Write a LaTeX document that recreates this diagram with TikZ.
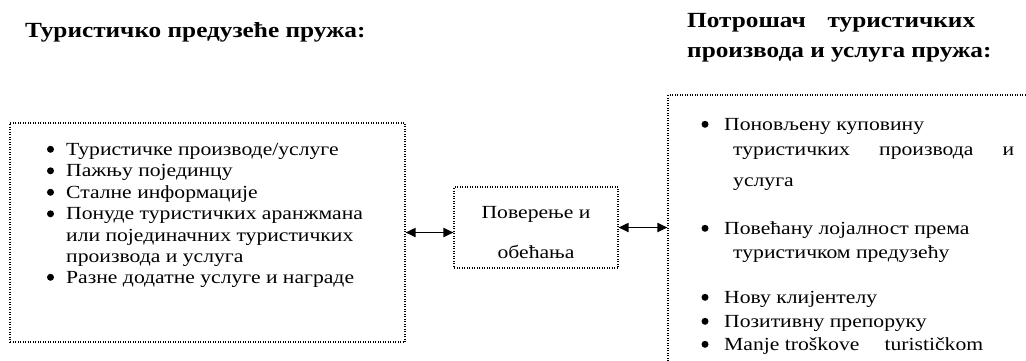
\documentclass[tikz,border=0pt]{standalone}
\usepackage{fontspec}
\setmainfont{Liberation Serif}[FakeStretch=1.17]
\usetikzlibrary{arrows.meta}
\tikzset{
  frame/.style={draw, dash pattern=on 1pt off 1.5pt, line width=1.1pt, inner sep=0pt},
  line/.style={anchor=base west, inner sep=0pt, font=\fontsize{18.5}{22}\selectfont},
  head/.style={anchor=base west, inner sep=0pt, font=\fontsize{21.6}{26}\selectfont\bfseries},
  dot/.style={circle, fill, inner sep=0pt, minimum size=7pt},
  link/.style={{Triangle[length=10pt,width=9pt]}-{Triangle[length=10pt,width=9pt]}, line width=1.8pt}
}
\begin{document}
\begin{tikzpicture}[x=1pt,y=-1pt]
\useasboundingbox (0,0) rectangle (1026,360);
\clip (0,0) rectangle (1026,360);

% headings
\node[head] (h1) at (25,37) {Туристичко предузеће пружа:};
\node[head] (h2a) at (687,27) {\makebox[288pt][s]{Потрошач\hfill туристичких}};
\node[head] (h2b) at (687,57) {производа и услуга пружа:};

% frames
\node[frame, minimum width=395pt, minimum height=219pt] (lbox) at (207.5,232.5) {};
\node[frame, minimum width=164pt, minimum height=81pt] (mid) at (536,227.5) {};
\node[frame, minimum width=380pt, minimum height=300pt] (rbox) at (858,245) {};

% left list
\node[line] (l1) at (66,155) {Туристичке производе/услуге};
\node[line] (l2) at (66,176.5) {Пажњу појединцу};
\node[line] (l3) at (66,198) {Сталне информације};
\node[line] (l4a) at (66,219.5) {Понуде туристичких аранжмана};
\node[line] (l4b) at (66,241) {или појединачних туристичких};
\node[line] (l4c) at (66,262) {производа и услуга};
\node[line] (l5) at (66,283) {Разне додатне услуге и награде};
\foreach \y [count=\i] in {155,176.5,198,219.5,283}
  \node[dot] (lb\i) at (50.5,\y-5.7) {};

% middle text
\node[line, anchor=base] (m1) at (536,218) {Поверење и};
\node[line, anchor=base] (m2) at (536,258) {обећања};

% right list
\node[line] (r1a) at (724,130) {Поновљену куповину};
\node[line] (r1b) at (733,155) {\makebox[281pt][s]{туристичких\hfill производа\hfill и}};
\node[line] (r1c) at (733,186) {услуга};
\node[line] (r2a) at (724,234) {Повећану лојалност према};
\node[line] (r2b) at (733,258) {туристичком предузећу};
\node[line] (r3) at (724,303) {Нову клијентелу};
\node[line] (r4) at (724,327) {Позитивну препоруку};
\node[line] (r5) at (724,350) {\makebox[259pt][s]{Manje troškove\hfill turističkom}};
\foreach \y [count=\i] in {130,234,303,327,350}
  \node[dot] (rb\i) at (705,\y-5.7) {};

% connectors
\draw[link] (lbox.east) -- (lbox.east -| mid.west);
\draw[link] (mid.east) -- (mid.east -| rbox.west);
\end{tikzpicture}
\end{document}
